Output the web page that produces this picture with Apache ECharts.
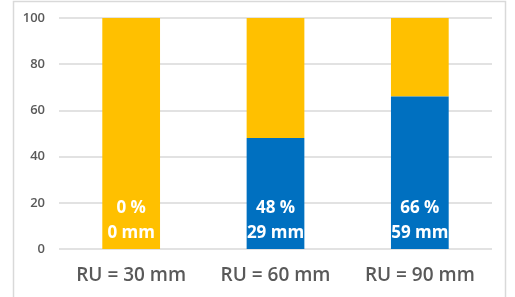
<!DOCTYPE html>
<html>
<head>
<meta charset="utf-8">
<script src="https://cdn.jsdelivr.net/npm/echarts@6/dist/echarts.min.js"></script>
<style>
  html, body { margin: 0; padding: 0; background: #fff; }
  #chart { width: 515px; height: 297px; }
</style>
</head>
<body>
<div id="chart"></div>
<script>
var categories = ["RU = 30 mm", "RU = 60 mm", "RU = 90 mm"];
var bluePct = [0, 48, 66];
var orangePct = [100, 52, 34];
var depthMm = [0, 29, 59];
var yTicks = [0, 20, 40, 60, 80, 100];

(function () {
  var myChart = echarts.init(document.getElementById("chart"));
  var option = {
    animation: false,
    graphic: [
      {
        type: "rect",
        shape: { x: 13.5, y: 1.5, width: 492, height: 300 },
        style: { fill: "none", stroke: "#d9d9d9", lineWidth: 1.5 },
        silent: true,
      },
    ],
    grid: { left: 59, right: 23, top: 18, bottom: 48 },
    xAxis: {
      type: "category",
      data: categories,
      axisLine: { show: false },
      axisTick: { show: false },
      axisLabel: {
        color: "#595959",
        fontFamily: "Open Sans",
        fontWeight: 600,
        fontSize: 19,
        margin: 17,
      },
    },
    yAxis: {
      type: "value",
      min: yTicks[0],
      max: yTicks[yTicks.length - 1],
      interval: 20,
      axisLine: { show: false },
      axisTick: { show: false },
      splitLine: { lineStyle: { color: "#d9d9d9", width: 1.5 } },
      axisLabel: {
        color: "#595959",
        fontFamily: "Open Sans",
        fontWeight: 600,
        fontSize: 13,
        margin: 14,
      },
    },
    series: [
      {
        name: "blue",
        type: "bar",
        stack: "total",
        barWidth: "40%",
        data: bluePct,
        itemStyle: { color: "#0070C0" },
        z: 3,
        label: {
          show: true,
          position: "insideBottom",
          distance: 3,
          color: "#fff",
          fontFamily: "Open Sans",
          fontWeight: "bold",
          fontSize: 17,
          lineHeight: 25,
          formatter: function (p) {
            return bluePct[p.dataIndex] + " %\n" + depthMm[p.dataIndex] + " mm";
          },
        },
      },
      {
        name: "orange",
        type: "bar",
        stack: "total",
        barWidth: "40%",
        data: orangePct,
        itemStyle: { color: "#FFC000" },
      },
    ],
  };
  myChart.setOption(option);
  window.addEventListener("resize", function () {
    myChart.resize();
  });
})();
</script>
</body>
</html>
